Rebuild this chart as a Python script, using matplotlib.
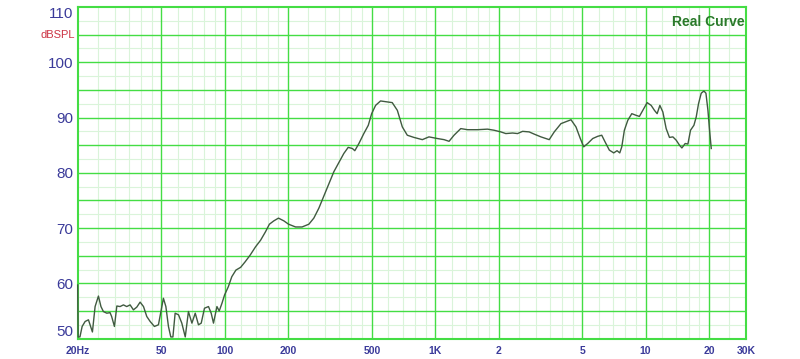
import matplotlib
matplotlib.use('Agg')
import matplotlib.pyplot as plt
from matplotlib.ticker import FixedLocator, NullFormatter

plt.rcParams['font.family'] = ['Liberation Sans', 'DejaVu Sans']

freq = [20, 20.1, 20.5, 21.0, 21.7, 22.5, 22.9, 23.5, 24.2, 25.1, 25.8, 26.5, 27.5,
        28.5, 29.0, 29.9, 30.7, 31.8, 33.0, 34.2, 35.5, 36.8, 38.2, 39.6, 41.1,
        42.6, 44.2, 46.3, 48.4, 49.9, 51.1, 52.5, 54.0, 55.4, 56.7, 58.1, 60.3,
        62.5, 64.9, 67.2, 69.8, 72.4, 75.0, 77.3, 80.1, 83.7, 86.2, 88.4, 91.8,
        94.1, 97.0, 99.8, 104, 108, 113, 119, 125, 132, 140, 148, 156, 163, 171,
        180, 191, 201, 217, 233, 251, 265, 280, 295, 312, 330, 348, 368, 386,
        404, 415, 434, 458, 481, 499, 521, 550, 625, 661, 698, 737, 793, 869,
        934, 1025, 1102, 1164, 1229, 1323, 1424, 1589, 1773, 1906, 2051, 2166,
        2332, 2464, 2603, 2797, 2955, 3181, 3483, 3680, 3962, 4421, 4668, 4894,
        5080, 5306, 5606, 5920, 6188, 6416, 6726, 7056, 7316, 7537, 7705, 7926,
        8229, 8598, 9013, 9343, 9700, 10170, 10626, 11016, 11346, 11689, 12078,
        12523, 12984, 13478, 13976, 14488, 14874, 15422, 15887, 16346, 16968,
        17398, 17844, 18378, 18932, 19352, 19780, 20134, 20512]
spl = [59.7, 50.3, 50.3, 52.2, 53.1, 53.4, 52.5, 51.2, 55.8, 57.7, 55.8, 54.9, 54.6,
       54.7, 54.0, 52.2, 55.9, 55.8, 56.1, 55.8, 56.1, 55.2, 55.7, 56.6, 55.8,
       54.0, 53.1, 52.2, 52.5, 55.2, 57.3, 55.8, 52.2, 50.3, 50.3, 54.6, 54.3,
       52.8, 50.3, 54.9, 52.8, 54.6, 52.5, 52.8, 55.5, 55.8, 54.6, 52.8, 55.8,
       55.0, 56.4, 57.9, 59.4, 61.2, 62.4, 62.9, 63.9, 65.1, 66.6, 67.8, 69.3, 70.7, 71.3,
       71.8, 71.3, 70.7, 70.2, 70.2, 70.7, 71.8, 73.6, 75.7, 78.0, 80.2, 81.8, 83.5, 84.6,
       84.4, 84.0, 85.3, 87.1, 88.6, 90.7, 92.2, 93.0, 92.7, 91.3, 88.3, 86.8, 86.4, 86.0,
       86.5, 86.2, 86.0, 85.7, 86.8, 88.0, 87.8, 87.8, 87.9, 87.7, 87.4, 87.1,
       87.2, 87.1, 87.5, 87.4, 87.0, 86.5, 86.0, 87.4, 88.9, 89.6, 88.3, 86.2,
       84.7, 85.3, 86.2, 86.6, 86.8, 85.6, 84.1, 83.6, 84.0, 83.6, 84.7, 87.7,
       89.5, 90.7, 90.4, 90.2, 91.3, 92.7, 92.2, 91.3, 90.7, 92.2, 91.0,
       88.0, 86.4, 86.5, 85.9, 85.0, 84.5, 85.3, 85.2, 87.7, 88.6,
       90.1, 92.5, 94.4, 94.8, 94.4, 91.3, 87.7, 84.4]

xticks = [20, 50, 100, 200, 500, 1000, 2000, 5000, 10000, 20000, 30000]
xlabels = ['20Hz', '50', '100', '200', '500', '1K', '2', '5', '10', '20', '30K']
yticks = [50, 60, 70, 80, 90, 100, 110]

x_major = [50, 100, 200, 500, 1000, 2000, 5000, 10000, 20000]
x_minor = [25, 30, 35, 40, 45, 60, 70, 80, 90, 120, 140, 160, 180,
           250, 300, 350, 400, 450, 600, 700, 800, 900, 1200, 1400, 1600, 1800,
           2500, 3000, 3500, 4000, 4500, 6000, 7000, 8000, 9000,
           12000, 14000, 16000, 18000, 25000]

fig = plt.figure(figsize=(8, 3.59), dpi=100)
ax = fig.add_axes([0.0971, 0.0568, 0.8354, 0.9237])

ax.set_xscale('log')
ax.set_xlim(20, 30000)
ax.set_ylim(50, 110)

# grid: bright lines every 5 dB / decade steps, pale lines in between
for v in range(55, 110, 5):
    ax.axhline(v, color='#44dd44', lw=1.0, zorder=1)
for v in [52.5 + 5 * i for i in range(12)]:
    ax.axhline(v, color='#daf4da', lw=0.8, zorder=0)
for f in x_major:
    ax.axvline(f, color='#44dd44', lw=1.0, zorder=1)
for f in x_minor:
    ax.axvline(f, color='#daf4da', lw=0.8, zorder=0)

ax.plot(freq, spl, color='#405a40', lw=1.0, zorder=4, clip_on=False)

for s in ax.spines.values():
    s.set_color('#44dd44')
    s.set_linewidth(1.5)

ax.xaxis.set_major_locator(FixedLocator(xticks))
ax.xaxis.set_minor_locator(FixedLocator([]))
ax.xaxis.set_minor_formatter(NullFormatter())
ax.set_xticklabels(xlabels, color='#3b3b9a', fontsize=7.5, fontweight='bold')
ax.set_yticks(yticks)
ax.set_yticklabels([str(v) for v in yticks], color='#3b3b9a', fontsize=11)
ax.tick_params(axis='both', length=0)
ax.tick_params(axis='x', pad=5)
ax.tick_params(axis='y', pad=3)

ylabs = ax.get_yticklabels()
ylabs[0].set_va('bottom')
ylabs[-1].set_va('top')

ax.text(-0.004, 105, 'dBSPL', transform=ax.get_yaxis_transform(), ha='right',
        va='center', color='#cc3344', fontsize=8)
ax.text(0.998, 0.955, 'Real Curve', transform=ax.transAxes, ha='right', va='center',
        color='#2a7a2a', fontsize=10, fontweight='bold')

fig.savefig('out.png', dpi=100)
